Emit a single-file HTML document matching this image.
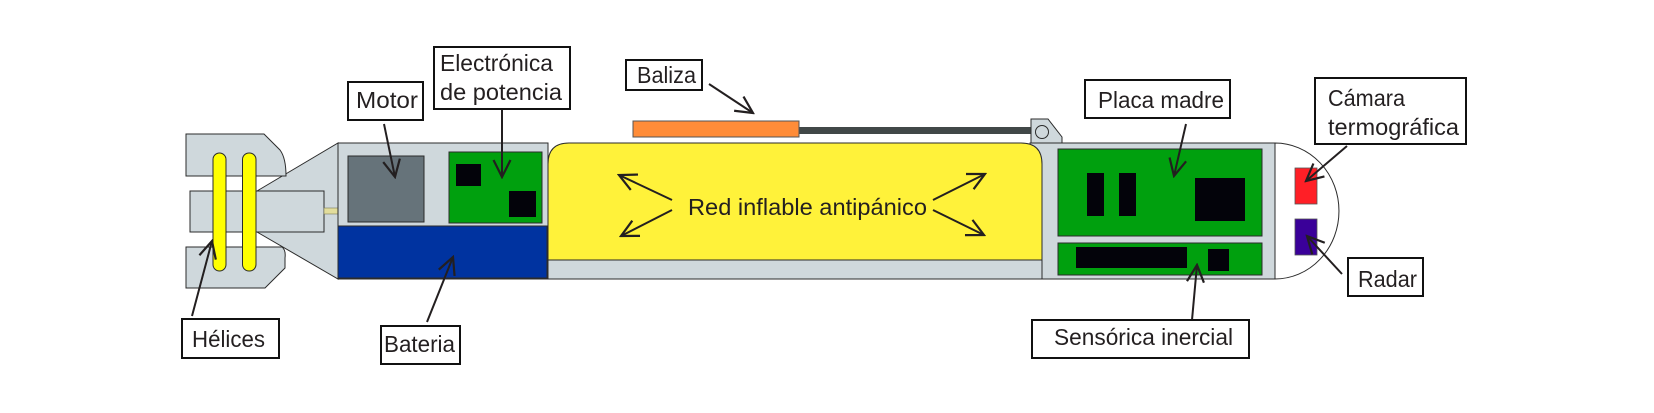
<!DOCTYPE html>
<html>
<head>
<meta charset="utf-8">
<style>
  html, body { margin:0; padding:0; background:#ffffff; }
  svg { display:block; }
  text { font-family: "Liberation Sans", "DejaVu Sans", sans-serif; font-size:23px; fill:#231f20; }
</style>
</head>
<body>
<svg width="1654" height="413" viewBox="0 0 1654 413" xmlns="http://www.w3.org/2000/svg">
  <defs>
    <marker id="ah" markerUnits="userSpaceOnUse" viewBox="0 0 20 20" refX="18" refY="10" markerWidth="20" markerHeight="20" orient="auto">
      <path d="M1,1.5 L18,10 L1,18.5" fill="none" stroke="#231f20" stroke-width="2.2" stroke-linejoin="miter"/>
    </marker>
  </defs>

  <rect x="0" y="0" width="1654" height="413" fill="#ffffff"/>

  <!-- Cone -->
  <polygon points="257,191 338,143 338,279 257,232" fill="#cfd8dc" stroke="#2b2b2b" stroke-width="1"/>
  <!-- Shaft housing middle piece -->
  <rect x="190" y="191" width="134" height="41" fill="#cfd8dc" stroke="#2b2b2b" stroke-width="1"/>
  <!-- Top propeller housing -->
  <path d="M186,134 L264,134 L280,150 Q286,158 286,176 L186,176 Z" fill="#cfd8dc" stroke="#2b2b2b" stroke-width="1"/>
  <!-- Bottom propeller housing -->
  <path d="M186,247 L282,247 Q286,250 285,258 L285,268 L265,288 L186,288 Z" fill="#cfd8dc" stroke="#2b2b2b" stroke-width="1"/>
  <!-- Propeller blades -->
  <rect x="213" y="153" width="13" height="118" rx="6.5" fill="#ffff00" stroke="#2b2b2b" stroke-width="1"/>
  <rect x="242.5" y="153" width="13.5" height="118" rx="6.5" fill="#ffff00" stroke="#2b2b2b" stroke-width="1"/>

  <!-- Shaft -->
  <rect x="324" y="208" width="25" height="6" fill="#e2dd9c" stroke="#7a7a5a" stroke-width="0.6"/>

  <!-- Left body section -->
  <rect x="338" y="143" width="210" height="136" fill="#cfd8dc" stroke="#2b2b2b" stroke-width="1"/>
  <!-- Motor -->
  <rect x="348" y="156" width="76" height="66" fill="#66737a" stroke="#2b2b2b" stroke-width="1"/>
  <!-- Power electronics -->
  <rect x="449" y="152" width="93" height="71" fill="#00a00e" stroke="#2b2b2b" stroke-width="1"/>
  <rect x="456" y="164" width="25" height="22" fill="#03030a"/>
  <rect x="509" y="191" width="27" height="26" fill="#03030a"/>
  <!-- Battery -->
  <rect x="338" y="226" width="209" height="52" fill="#0033a0" stroke="#2b2b2b" stroke-width="1"/>

  <!-- Right body section -->
  <rect x="1030" y="143" width="245" height="136" fill="#cfd8dc" stroke="#2b2b2b" stroke-width="1"/>

  <!-- Middle: gray strip + yellow net -->
  <rect x="548" y="260" width="494" height="19" fill="#cfd8dc" stroke="#2b2b2b" stroke-width="1"/>
  <path d="M548,260 L548,164 Q548,143 569,143 L1021,143 Q1042,143 1042,164 L1042,260 Z" fill="#fff23a" stroke="#2b2b2b" stroke-width="1"/>

  <!-- Beacon rod and beacon -->
  <rect x="799" y="127" width="233" height="7" fill="#414848"/>
  <rect x="633" y="121" width="166" height="16" fill="#ff8c38" stroke="#555" stroke-width="1"/>
  <!-- Hinge -->
  <path d="M1031,143 L1031,119 L1048,119 L1062,137 L1062,143 Z" fill="#cfd8dc" stroke="#2b2b2b" stroke-width="1"/>
  <circle cx="1042" cy="132" r="6.5" fill="#cfd8dc" stroke="#2b2b2b" stroke-width="1"/>

  <!-- Motherboard -->
  <rect x="1058" y="149" width="204" height="87" fill="#00a00e" stroke="#2b2b2b" stroke-width="1"/>
  <rect x="1087" y="173" width="17" height="43" fill="#03030a"/>
  <rect x="1119" y="173" width="17" height="43" fill="#03030a"/>
  <rect x="1195" y="178" width="50" height="43" fill="#03030a"/>
  <!-- Inertial sensor board -->
  <rect x="1058" y="243" width="204" height="32" fill="#00a00e" stroke="#2b2b2b" stroke-width="1"/>
  <rect x="1076" y="247" width="111" height="21" fill="#03030a"/>
  <rect x="1208" y="249" width="21" height="22" fill="#03030a"/>

  <!-- Nose -->
  <path d="M1275,143 A64,68 0 0 1 1275,279 Z" fill="#ffffff" stroke="#2b2b2b" stroke-width="1"/>
  <rect x="1295" y="168" width="22" height="36" fill="#ff1f26" stroke="#555" stroke-width="0.8"/>
  <rect x="1295" y="219" width="22" height="36" fill="#3a0099" stroke="#555" stroke-width="0.8"/>

  <!-- Center text -->
  <text x="688" y="215" textLength="239" lengthAdjust="spacingAndGlyphs">Red inflable antipánico</text>

  <!-- Arrows -->
  <g stroke="#231f20" stroke-width="2" fill="none" marker-end="url(#ah)">
    <line x1="384" y1="124" x2="395" y2="177"/>
    <line x1="502" y1="109" x2="502" y2="177"/>
    <line x1="192" y1="316" x2="212" y2="241"/>
    <line x1="427" y1="322" x2="453" y2="257"/>
    <line x1="709" y1="84" x2="753" y2="113"/>
    <line x1="672" y1="200" x2="619" y2="175"/>
    <line x1="672" y1="210" x2="621" y2="236"/>
    <line x1="933" y1="200" x2="985" y2="174"/>
    <line x1="933" y1="210" x2="984" y2="235"/>
    <line x1="1186" y1="124" x2="1174" y2="176"/>
    <line x1="1192" y1="320" x2="1197" y2="265"/>
    <line x1="1347" y1="146" x2="1306" y2="181"/>
    <line x1="1342" y1="274" x2="1307" y2="236"/>
  </g>

  <!-- Label boxes -->
  <g fill="#ffffff" stroke="#111" stroke-width="2">
    <rect x="348" y="82" width="75" height="38"/>
    <rect x="434" y="47" width="136" height="62"/>
    <rect x="626" y="60" width="76" height="30"/>
    <rect x="1085" y="80" width="145" height="38"/>
    <rect x="1315" y="78" width="151" height="66"/>
    <rect x="1348" y="258" width="75" height="38"/>
    <rect x="1032" y="320" width="217" height="38"/>
    <rect x="182" y="319" width="97" height="39"/>
    <rect x="381" y="326" width="79" height="38"/>
  </g>

  <!-- Label texts -->
  <text x="356" y="108" textLength="62" lengthAdjust="spacingAndGlyphs">Motor</text>
  <text x="440" y="71" textLength="113" lengthAdjust="spacingAndGlyphs">Electrónica</text>
  <text x="440" y="100" textLength="122" lengthAdjust="spacingAndGlyphs">de potencia</text>
  <text x="637" y="83" textLength="59" lengthAdjust="spacingAndGlyphs">Baliza</text>
  <text x="1098" y="108" textLength="126" lengthAdjust="spacingAndGlyphs">Placa madre</text>
  <text x="1328" y="106" textLength="77" lengthAdjust="spacingAndGlyphs">Cámara</text>
  <text x="1328" y="135" textLength="131" lengthAdjust="spacingAndGlyphs">termográfica</text>
  <text x="1358" y="287" textLength="59" lengthAdjust="spacingAndGlyphs">Radar</text>
  <text x="1054" y="345" textLength="179" lengthAdjust="spacingAndGlyphs">Sensórica inercial</text>
  <text x="192" y="347" textLength="73" lengthAdjust="spacingAndGlyphs">Hélices</text>
  <text x="384" y="352" textLength="71" lengthAdjust="spacingAndGlyphs">Bateria</text>
</svg>
</body>
</html>
